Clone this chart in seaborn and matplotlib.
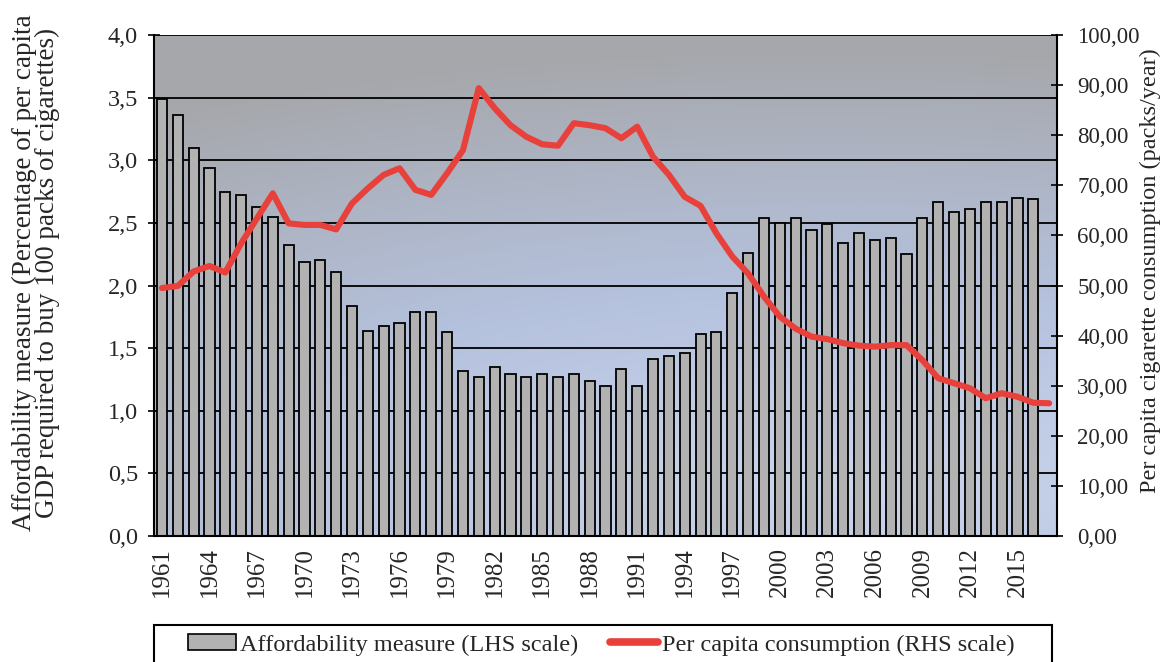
import numpy as np
import pandas as pd
import matplotlib
matplotlib.use('Agg')
import matplotlib.pyplot as plt
import seaborn as sns
from matplotlib.patches import Patch, Rectangle
from matplotlib.lines import Line2D
from matplotlib.ticker import FuncFormatter, MultipleLocator, FixedLocator

# data (1961-2017, no affordability bar for 2017)
years = list(range(1961, 2018))
affordability = [3.49, 3.36, 3.10, 2.94, 2.75, 2.72, 2.63, 2.55, 2.32, 2.19, 2.20, 2.11, 1.84, 1.64, 1.68, 1.70, 1.79, 1.79,
                 1.63, 1.32, 1.27, 1.35, 1.29, 1.27, 1.29, 1.27, 1.29, 1.24, 1.20, 1.33, 1.20, 1.41, 1.44, 1.46, 1.61, 1.63, 1.94,
                 2.26, 2.54, 2.50, 2.54, 2.44, 2.49, 2.34, 2.42, 2.36, 2.38, 2.25, 2.54, 2.67, 2.59, 2.61, 2.67, 2.67, 2.70, 2.69,
                 np.nan]
consumption = [49.5, 49.9, 52.8, 53.9, 52.6, 58.4, 63.4, 68.4, 62.4, 62.1, 62.1, 61.2, 66.4, 69.4, 72.1, 73.4, 69.1, 68.1,
               72.4, 77.0, 89.4, 85.4, 82.0, 79.7, 78.2, 77.9, 82.4, 82.0, 81.4, 79.4, 81.7, 75.7, 72.1, 67.7, 65.9, 60.4, 55.8,
               52.4, 47.8, 43.8, 41.4, 39.8, 39.3, 38.5, 38.0, 37.8, 38.1, 38.1, 35.1, 31.5, 30.5, 29.5, 27.5, 28.5, 27.8, 26.6,
               26.5]
lhs_label = 'Affordability measure (Percentage of per capita\nGDP required to buy 100 packs of cigarettes)'
rhs_label = 'Per capita cigarette consumption (packs/year)'
legend_labels = ['Affordability measure (LHS scale)', 'Per capita consumption (RHS scale)']

BAR_COLOR = '#b2b2b2'
LINE_COLOR = '#e8403a'

sns.set_style('white')
plt.rcParams['font.family'] = ['Liberation Serif', 'DejaVu Serif']

df = pd.DataFrame({'year': [str(y) for y in years], 'afford': affordability, 'cons': consumption})
order = df['year'].tolist()

fig = plt.figure(figsize=(11.63, 6.62), dpi=100)
ax = fig.add_axes([0.1324, 0.1903, 0.7765, 0.7568])

# background gradient: grey top/edges, blue centre, pale bottom right
gx, gy = np.meshgrid(np.linspace(0, 1, 300), np.linspace(0, 1, 200))
r = np.sqrt(((gx - 0.75) / 1.3) ** 2 + ((gy - 0.1) / 0.8) ** 2)
t = np.clip(r / 1.1, 0, 1)
stops = [0.0, 0.45, 1.0]
chans = [[0.80, 0.71, 0.65], [0.84, 0.76, 0.655], [0.93, 0.87, 0.67]]
bg = np.dstack([np.interp(t, stops, c) for c in chans])
ax.imshow(bg, extent=(0, 1, 0, 1), transform=ax.transAxes,
          aspect='auto', origin='lower', zorder=0)

sns.barplot(data=df, x='year', y='afford', order=order, color=BAR_COLOR, width=0.64,
            edgecolor='black', linewidth=1.3, saturation=1, ax=ax, zorder=2)

ax.set_xlim(-0.5, len(years) - 0.5)
ax.set_ylim(0, 4.0)
ax.yaxis.set_major_locator(MultipleLocator(0.5))
ax.yaxis.set_major_formatter(FuncFormatter(lambda v, p: f'{v:.1f}'.replace('.', ',')))
ax.grid(axis='y', color='black', linewidth=1.3, zorder=1)
ax.set_axisbelow(True)
ax.get_ygridlines()[-1].set_visible(False)

# x ticks: marks between categories, labels every 3 years
ax.xaxis.set_major_locator(FixedLocator(list(range(0, len(years), 3))))
ax.set_xticklabels([order[i] for i in range(0, len(years), 3)], rotation=90, fontsize=18)
ax.xaxis.set_minor_locator(FixedLocator(np.arange(-0.5, len(years), 1.0)))
ax.tick_params(axis='x', which='major', length=0, pad=8)
ax.tick_params(axis='x', which='minor', length=8, width=1.2, direction='inout', color='black')
ax.tick_params(axis='y', length=9, width=1.2, direction='inout', labelsize=17.5, pad=7, color='black')
ax.set_xlabel('')
ax.set_ylabel(lhs_label, fontsize=19.5, labelpad=34, linespacing=0.9)
ax.yaxis.label.set_y(0.525)

for s in ['top', 'right']:
    ax.spines[s].set_visible(False)
for s in ['left', 'bottom']:
    ax.spines[s].set_color('black')
    ax.spines[s].set_linewidth(1.5)

ax2 = ax.twinx()
sns.lineplot(x=np.arange(len(years)), y=df['cons'], color=LINE_COLOR, linewidth=4.4, ax=ax2,
             solid_joinstyle='round')
ax2.set_ylim(0, 100)
ax2.yaxis.set_major_locator(MultipleLocator(10))
ax2.yaxis.set_major_formatter(FuncFormatter(lambda v, p: f'{v:.2f}'.replace('.', ',')))
ax2.tick_params(axis='y', length=9, width=1.2, direction='inout', labelsize=16.5, pad=10, color='black')
ax2.set_ylabel(rhs_label, fontsize=17.5, labelpad=0)
ax2.yaxis.label.set_y(0.53)
ax2.grid(False)
for s in ['top', 'left', 'bottom']:
    ax2.spines[s].set_visible(False)
ax2.spines['right'].set_color('black')
ax2.spines['right'].set_linewidth(1.5)

# legend box along the bottom edge
fig.patches.append(Rectangle((0.1324, -0.02), 0.772, 0.0759, transform=fig.transFigure,
                             facecolor='white', edgecolor='black', linewidth=1.5, zorder=0))
handles = [Patch(facecolor=BAR_COLOR, edgecolor='black', linewidth=1.2),
           Line2D([0], [0], color=LINE_COLOR, linewidth=5.5)]
fig.legend(handles, legend_labels, loc='center', ncol=2, bbox_to_anchor=(0.5168, 0.0257),
           fontsize=17.5, frameon=False, handlelength=2.0, handleheight=0.65,
           handletextpad=0.15, borderaxespad=0.0, columnspacing=1.3)

fig.savefig('out.png', dpi=100)
